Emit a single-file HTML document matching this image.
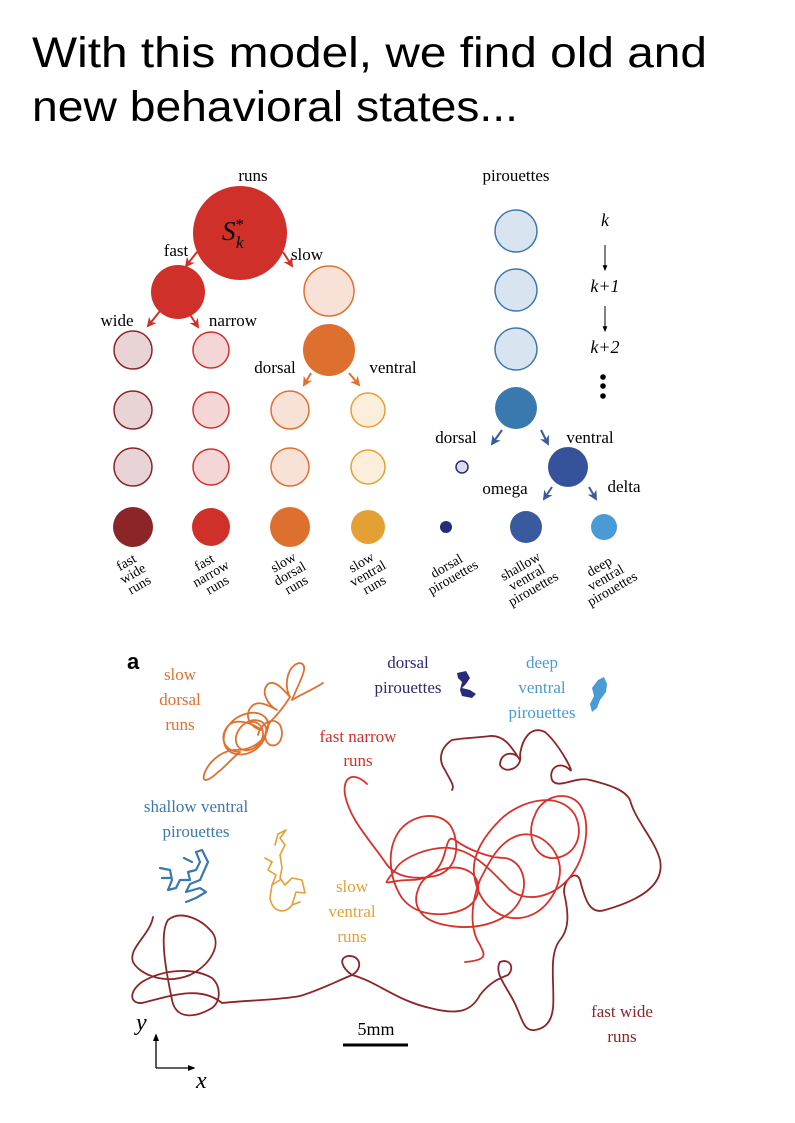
<!DOCTYPE html>
<html><head><meta charset="utf-8"><style>
html,body{margin:0;padding:0;background:#fff}
svg{display:block}
.s{font-family:"Liberation Serif",serif}
</style></head><body>
<svg id="fig" width="795" height="1123" viewBox="0 0 795 1123" xmlns="http://www.w3.org/2000/svg">
<defs>
<marker id="ar" viewBox="0 0 10 10" refX="8" refY="5" markerWidth="5" markerHeight="5" orient="auto"><path d="M0,0 L10,5 L0,10 L3,5 z" fill="context-stroke"/></marker>
<marker id="ak" viewBox="0 0 10 10" refX="8" refY="5" markerWidth="6" markerHeight="6" orient="auto"><path d="M0,1 L10,5 L0,9 z" fill="#000"/></marker>
</defs>
<g font-family="Liberation Sans, sans-serif" font-size="43" fill="#000">
<text x="32" y="67" textLength="675" lengthAdjust="spacingAndGlyphs">With this model, we find old and</text>
<text x="32" y="121" textLength="486" lengthAdjust="spacingAndGlyphs">new behavioral states...</text>
</g>
<g id="tree"></g>
<g id="traj">
<text x="127" y="669" font-family="Liberation Sans, sans-serif" font-weight="bold" font-size="22">a</text>
<g class="s" font-size="17" text-anchor="middle">
<text x="180" y="680" fill="#e07030"><tspan x="180">slow</tspan><tspan x="180" dy="25">dorsal</tspan><tspan x="180" dy="25">runs</tspan></text>
<text x="408" y="668" fill="#2a2a7a"><tspan x="408">dorsal</tspan><tspan x="408" dy="25">pirouettes</tspan></text>
<text x="542" y="668" fill="#4a9ad5"><tspan x="542">deep</tspan><tspan x="542" dy="25">ventral</tspan><tspan x="542" dy="25">pirouettes</tspan></text>
<text x="358" y="742" fill="#d0302a"><tspan x="358">fast narrow</tspan><tspan x="358" dy="24">runs</tspan></text>
<text x="196" y="812" fill="#3a78b0"><tspan x="196">shallow ventral</tspan><tspan x="196" dy="25">pirouettes</tspan></text>
<text x="352" y="892" fill="#e5a035"><tspan x="352">slow</tspan><tspan x="352" dy="25">ventral</tspan><tspan x="352" dy="25">runs</tspan></text>
<text x="622" y="1017" fill="#8b2528"><tspan x="622">fast wide</tspan><tspan x="622" dy="25">runs</tspan></text>
</g>
<g fill="none" stroke-width="1.8" stroke-linejoin="round" stroke-linecap="round">
<path stroke="#8b2528" d="M153,917 C150,935 128,948 133,962 C140,975 165,985 190,975 C210,965 222,945 212,932 C200,918 180,910 168,920 C158,935 168,980 172,1000 C176,1020 195,1018 212,1008 C222,1000 220,985 212,978 C195,968 165,968 142,982 C128,992 130,1004 142,1003 C170,996 200,985 222,1003 C250,1000 280,1000 300,996 C320,990 335,982 352,975 C342,968 338,958 348,956 C360,955 364,968 352,975 C378,982 395,1000 430,1008 C460,1016 472,1010 480,995 C490,982 500,978 508,975 C515,968 510,958 500,962 C494,972 505,985 512,998 C522,1015 522,1032 535,1030 C548,1028 552,1018 553,1008 C555,985 548,955 560,940 C570,928 568,912 565,897 C560,882 576,868 580,880 C585,900 590,915 605,910 C640,900 665,885 660,860 C655,840 635,820 630,800 C625,790 610,785 590,780 C575,776 558,790 552,780 C548,768 560,760 570,770 C575,775 560,745 545,732 C530,725 522,740 520,755 C523,768 505,775 500,765 C500,752 515,750 520,760 C512,748 505,735 490,736 C475,738 462,738 452,740 C440,748 438,760 445,770 C450,780 455,786 452,790"/>
<path stroke="#d8302a" d="M367,784 C355,772 342,775 345,795 C350,820 370,840 385,862 C395,878 415,880 435,876 C460,870 460,840 450,825 C438,810 412,815 400,830 C385,850 390,880 402,898 C415,915 440,918 462,910 C485,900 480,878 470,872 C455,862 428,870 420,885 C410,905 420,920 445,925 C480,932 510,920 520,900 C530,880 520,860 505,858 C490,858 468,850 455,840 C440,830 455,880 410,880 C385,880 380,890 395,870 C400,860 420,850 440,848 C470,845 490,870 510,890 C530,905 560,895 575,870 C590,845 590,810 575,800 C560,790 540,800 535,815 C525,835 535,860 555,858 C575,856 585,835 575,815 C560,790 520,800 500,820 C480,840 470,860 475,880 C480,905 500,920 520,918 C545,915 560,890 560,870 C560,850 540,830 520,835 C500,840 490,860 480,880 C470,905 470,930 480,945 C485,955 488,960 465,962"/>
<path stroke="#e07030" d="M323,683 C312,690 300,695 292,700 C300,680 310,665 300,663 C288,664 283,685 290,697 C282,688 275,680 268,684 C260,692 268,705 277,710 C268,705 258,700 252,706 C243,715 250,728 262,730 C250,722 235,718 228,726 C218,738 225,752 240,752 C230,760 222,770 218,772 C210,780 200,785 205,772 C210,760 225,748 240,750 C255,748 265,740 268,728 C270,716 258,710 245,714 C232,718 222,730 224,742 C226,755 242,758 255,750 C266,742 270,728 262,722 C252,716 238,725 236,737 C234,750 248,755 258,745 C268,735 262,720 250,722 M290,697 C285,705 280,712 272,720 C265,728 262,740 270,745 C280,748 285,735 280,725 C272,715 260,725 258,735"/>
<path stroke="#e5a035" stroke-width="1.6" d="M265,858 L272,862 L268,870 L276,875 L272,885 L270,898 C272,912 285,915 292,905 L296,892 L305,893 L302,880 L292,878 L285,885 L280,878 L282,868 L280,855 L285,845 L280,838 L286,830 L278,834 L275,845 M272,885 L280,880 M292,905 L300,902"/>
<path stroke="#3a78b0" stroke-width="2.2" d="M160,868 L170,870 L172,880 L168,890 L176,888 L180,880 L190,880 L188,872 L196,870 L200,862 L196,852 L202,850 L208,862 L200,880 L190,884 L186,892 L200,888 L206,892 L196,898 L186,902 M162,878 L170,878 M184,858 L192,862"/>
</g>
<path fill="#2a2a7a" d="M457,673 L466,671 L470,678 L466,684 L462,688 L470,690 L476,694 L472,698 L462,696 L460,690 L462,682 L458,678 z"/>
<path fill="#4a9ad5" d="M598,680 L604,677 L607,684 L606,692 L600,700 L597,708 L592,712 L590,704 L594,696 L592,688 z"/>
<line x1="343" y1="1045" x2="408" y2="1045" stroke="#000" stroke-width="3"/>
<text x="376" y="1035" class="s" font-size="18" text-anchor="middle">5mm</text>
<line x1="156" y1="1068" x2="156" y2="1035" stroke="#000" stroke-width="1.3" marker-end="url(#ak)"/>
<line x1="156" y1="1068" x2="194" y2="1068" stroke="#000" stroke-width="1.3" marker-end="url(#ak)"/>
<text x="136" y="1030" class="s" font-style="italic" font-size="24">y</text>
<text x="196" y="1088" class="s" font-style="italic" font-size="24">x</text>
</g>
</svg>
<script>
const nodeNames=["runs-root","fast","slow","slow-solid","wide1","wide2","wide3","wide-final","narrow1","narrow2","narrow3","narrow-final","dorsal1","dorsal2","dorsal-final","ventral1","ventral2","ventral-final","pir1","pir2","pir3","pir-solid","pir-dorsal","pir-ventral","pir-dorsal-final","pir-shallow-final","pir-deep-final"];
const nodeX=[240,178,329,329,133,133,133,133,211,211,211,211,290,290,290,368,368,368,516,516,516,516,462,568,446,526,604];
const nodeY=[233,292,291,350,350,410,467,527,350,410,467,527,410,467,527,410,467,527,231,290,349,408,467,467,527,527,527];
const nodeR=[47,27,25,26,19,19,19,20,18,18,18,19,19,19,20,17,17,17,21,21,21,21,6,20,6,16,13];
const nodeFill=["#d0302a","#d0302a","#f8e2d8","#dd6f2f","#e8d4d6","#e8d4d6","#e8d4d6","#8b2528","#f5d6d6","#f5d6d6","#f5d6d6","#d0302a","#f8e2d8","#f8e2d8","#dd6f2f","#fbeeda","#fbeeda","#e5a035","#d8e4f0","#d8e4f0","#d8e4f0","#3a78b0","#dcdcec","#36529a","#2a2a7a","#3a5aa0","#4a9ad5"];
const nodeStroke=["none","none","#e07030","none","#8b2528","#8b2528","#8b2528","none","#d0302a","#d0302a","#d0302a","none","#e07030","#e07030","none","#e5a035","#e5a035","none","#3a78b0","#3a78b0","#3a78b0","none","#2a2a7a","none","none","none","none"];
const NS="http://www.w3.org/2000/svg";
const tree=document.getElementById('tree');
function mk(tag,attrs,parent){const e=document.createElementNS(NS,tag);for(const k in attrs)e.setAttribute(k,attrs[k]);(parent||tree).appendChild(e);return e;}
for(let i=0;i<nodeX.length;i++){
 const c=mk('circle',{cx:nodeX[i],cy:nodeY[i],r:nodeR[i],fill:nodeFill[i],stroke:nodeStroke[i],'stroke-width':1.5});
 
 
}
const arrows=[[197,252,186,266,"#d0302a"],[283,252,292,266,"#d0302a"],[160,311,148,326,"#d0302a"],[189,313,198,327,"#d0302a"],[311,373,304,385,"#e07030"],[349,373,359,385,"#e07030"],[502,430,492,444,"#3a5aa0"],[541,430,548,444,"#3a5aa0"],[552,487,544,499,"#3a5aa0"],[589,487,596,499,"#3a5aa0"]];
arrows.forEach(a=>{const l=mk('line',{x1:a[0],y1:a[1],x2:a[2],y2:a[3],stroke:a[4],'stroke-width':2,'marker-end':'url(#ar)'});
 
 });
const labels=[["runs",253,181,"middle"],["pirouettes",516,181,"middle"],["fast",176,256,"middle"],["slow",307,260,"middle"],["wide",117,326,"middle"],["narrow",233,326,"middle"],["dorsal",275,373,"middle"],["ventral",393,373,"middle"],["dorsal",456,443,"middle"],["ventral",590,443,"middle"],["omega",505,494,"middle"],["delta",624,492,"middle"]];
labels.forEach(t=>{const e=mk('text',{x:t[1],y:t[2],'text-anchor':t[3],'font-family':'Liberation Serif, serif','font-size':17});e.textContent=t[0];
 
 });
const sk=mk('text',{x:222,y:240,'font-family':'Liberation Serif, serif','font-style':'italic','font-size':27});


sk.innerHTML='S<tspan font-size="17" dy="-10" font-style="normal">*</tspan><tspan font-size="17" dx="-8" dy="18">k</tspan>';
const kl=[["k",226],["k+1",292],["k+2",353]];
kl.forEach(t=>{const e=mk('text',{x:605,y:t[1],'text-anchor':'middle','font-family':'Liberation Serif, serif','font-size':18,'font-style':'italic'});e.textContent=t[0];
 
 });
[[605,245,605,270],[605,306,605,331]].forEach(a=>{const l=mk('line',{x1:a[0],y1:a[1],x2:a[2],y2:a[3],stroke:'#000','stroke-width':1,'marker-end':'url(#ak)'});
 
 });
[377,386,396].forEach(y=>{const d=mk('circle',{cx:603,cy:y,r:2.8,fill:'#000'});
 
 });
const bottom=[["fast|wide|runs",133,574],["fast|narrow|runs",211,574],["slow|dorsal|runs",290,574],["slow|ventral|runs",368,574],["dorsal|pirouettes",450,572],["shallow|ventral|pirouettes",527,578],["deep|ventral|pirouettes",606,578]];
bottom.forEach(b=>{const g=mk('g',{transform:`translate(${b[1]},${b[2]}) rotate(-30)`});
 
 
 const parts=b[0].split('|');const off=(parts.length-1)*6.5;
 parts.forEach((p,i)=>{const e=mk('text',{x:0,y:i*13-off+4,'text-anchor':'middle','font-family':'Liberation Serif, serif','font-size':14},g);e.textContent=p;});});
</script>
</body></html>
